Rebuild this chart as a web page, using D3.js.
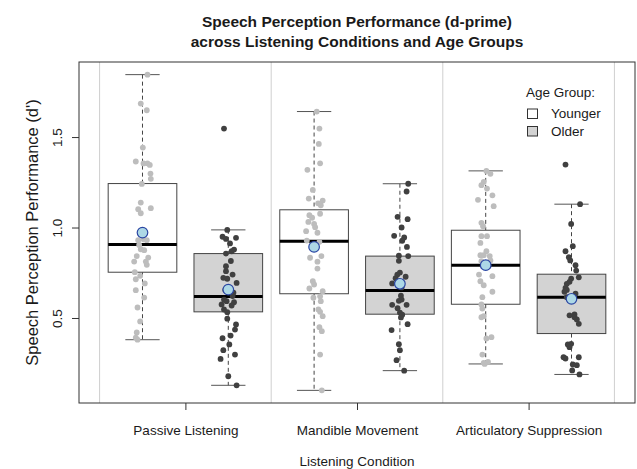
<!DOCTYPE html>
<html>
<head>
<meta charset="utf-8">
<script src="https://cdn.jsdelivr.net/npm/d3@7"></script>
<style>
  body { margin: 0; background: #fff; }
  text { font-family: "Liberation Sans", Arial, Helvetica, sans-serif; fill: #1a1a1a; }
</style>
</head>
<body>
<svg id="chart" width="637" height="469"></svg>
<script>
// Listening conditions and age groups
const conditions = ["Passive Listening", "Mandible Movement", "Articulatory Suppression"];
const ageGroups = ["Younger", "Older"];

// Box summaries, one entry per box (Younger/Older within each condition)
const whiskerLow  = [0.380, 0.128, 0.100, 0.209, 0.246, 0.188];
const quartile1   = [0.753, 0.534, 0.634, 0.521, 0.576, 0.414];
const medians     = [0.906, 0.619, 0.924, 0.652, 0.792, 0.615];
const quartile3   = [1.243, 0.856, 1.098, 0.842, 0.985, 0.742];
const whiskerHigh = [1.845, 0.987, 1.641, 1.242, 1.313, 1.129];
const means       = [0.972, 0.657, 0.893, 0.689, 0.792, 0.606];

// Individual d' scores and their horizontal jitter (in box-position units)
const passiveYoungerScores = [1.845,1.685,1.648,1.442,1.365,1.354,1.355,1.346,1.298,1.269,1.241,1.138,1.107,1.101,1.079,0.930,0.935,0.930,0.904,0.880,0.875,0.842,0.834,0.812,0.812,0.794,0.753,0.733,0.714,0.691,0.654,0.613,0.558,0.481,0.420,0.392,0.380];
const passiveYoungerJitter = [0.058,-0.02,0.05,0.004,-0.078,0.012,0.058,0.085,0.093,0.097,-0.008,-0.02,0.097,-0.05,-0.02,-0.05,0.012,0.05,-0.039,-0.02,0.02,-0.067,0.067,-0.097,0.039,0.05,-0.09,-0.027,-0.078,0.027,-0.078,0.02,-0.058,-0.027,-0.067,-0.078,-0.058];

const passiveOlderScores = [1.547,0.987,0.949,0.937,0.943,0.912,0.878,0.869,0.856,0.815,0.786,0.759,0.740,0.722,0.717,0.694,0.655,0.640,0.602,0.593,0.621,0.587,0.569,0.575,0.547,0.532,0.496,0.464,0.436,0.388,0.403,0.322,0.354,0.274,0.298,0.178,0.128];
const passiveOlderJitter = [-0.05,-0.012,-0.067,-0.027,0.09,0.02,0.067,0.039,-0.027,0.03,-0.027,-0.027,0.05,-0.058,-0.012,0.097,-0.035,0.06,-0.05,-0.02,0.05,0.067,0.039,-0.078,-0.05,-0.012,-0.012,0.09,0.078,-0.067,0.027,-0.058,0.012,-0.09,0.078,0,0.097];

const mandibleYoungerScores = [1.641,1.547,1.462,1.355,1.319,1.208,1.160,1.134,1.149,1.123,1.076,1.068,1.054,1.031,1.020,1.002,0.980,0.971,0.928,0.921,0.833,0.842,0.811,0.773,0.703,0.685,0.663,0.648,0.620,0.612,0.593,0.547,0.534,0.510,0.449,0.427,0.298,0.100];
const mandibleYoungerJitter = [0.031,0.062,0.055,0.07,-0.078,-0.015,-0.062,0.047,0.1,0.078,0.07,-0.055,-0.023,-0.067,0,0.012,-0.093,0.039,-0.085,0.062,-0.047,0.085,0.039,0.039,-0.015,0,-0.055,0.1,0.07,-0.008,0.078,0.05,0.07,0.1,0.062,0.09,0.07,0.09];

const mandibleOlderScores = [1.242,1.199,1.059,1.046,1.000,0.954,0.945,0.927,0.893,0.844,0.816,0.842,0.751,0.740,0.720,0.728,0.691,0.669,0.623,0.602,0.595,0.573,0.573,0.554,0.530,0.518,0.503,0.466,0.433,0.355,0.322,0.267,0.209];
const mandibleOlderJitter = [0.097,0.078,-0.027,0.09,0.02,-0.067,0.05,0.027,0.082,-0.012,-0.012,0.097,0,-0.03,-0.05,0.067,-0.09,0.02,0.012,0.02,-0.012,-0.09,0.078,-0.027,0,0.027,0.012,0.09,-0.097,-0.012,0,-0.039,0.05];

const articulatoryYoungerScores = [1.313,1.297,1.252,1.234,1.215,1.178,1.153,1.118,1.026,1.007,0.952,0.952,0.915,0.869,0.847,0.847,0.842,0.814,0.818,0.740,0.731,0.703,0.681,0.645,0.615,0.575,0.552,0.504,0.510,0.387,0.394,0.298,0.252,0.258,0.246];
const articulatoryYoungerJitter = [0.008,0.055,-0.023,-0.05,0.015,0.078,-0.09,0.093,-0.05,-0.031,-0.05,0.015,-0.062,0.008,-0.062,-0.023,0.047,-0.05,0.055,-0.078,0.078,-0.062,-0.023,0.078,-0.039,-0.05,-0.039,-0.05,-0.023,0.008,0.067,-0.039,-0.023,0.027,-0.012];

const articulatoryOlderScores = [1.348,1.129,1.020,0.897,0.869,0.836,0.818,0.792,0.762,0.725,0.718,0.700,0.689,0.667,0.655,0.645,0.634,0.615,0.520,0.515,0.504,0.492,0.468,0.354,0.357,0.339,0.283,0.283,0.276,0.243,0.239,0.210,0.188];
const articulatoryOlderJitter = [-0.07,0.1,-0.004,0.015,-0.07,-0.031,-0.015,0.047,0.055,0.085,-0.004,-0.023,-0.055,-0.07,-0.055,-0.082,0.047,-0.055,0.035,-0.023,0.035,0.062,0.085,-0.043,-0.004,-0.023,-0.093,0.085,-0.07,0.015,0.062,0.008,0.093];

const scoreSets  = [passiveYoungerScores, passiveOlderScores, mandibleYoungerScores, mandibleOlderScores, articulatoryYoungerScores, articulatoryOlderScores];
const jitterSets = [passiveYoungerJitter, passiveOlderJitter, mandibleYoungerJitter, mandibleOlderJitter, articulatoryYoungerJitter, articulatoryOlderJitter];

// Assemble one record per box
const boxes = scoreSets.map((scores, i) => ({
  pos: i + 1,
  group: ageGroups[i % 2],
  lo: whiskerLow[i], q1: quartile1[i], med: medians[i], q3: quartile3[i], hi: whiskerHigh[i],
  mean: means[i],
  points: scores.map((v, j) => ({ v, jit: jitterSets[i][j] }))
}));

const boxFill   = { Younger: "#ffffff", Older: "#d3d3d3" };
const pointFill = { Younger: "#bdbdbd", Older: "#404040" };

const svg = d3.select("#chart");
const plot = { left: 79, right: 635, top: 62, bottom: 403 };

// x: box positions 1..6 in the range 0.5..6.5, padded 4%
const xLo = 0.5, xHi = boxes.length + 0.5, xPad = (xHi - xLo) * 0.04;
const x = d3.scaleLinear().domain([xLo - xPad, xHi + xPad]).range([plot.left, plot.right]);

// y: data extent padded 4%
const allVals = boxes.flatMap(b => [b.lo, b.hi, ...b.points.map(p => p.v)]);
const [yMin, yMax] = d3.extent(allVals);
const yPad = (yMax - yMin) * 0.04;
const y = d3.scaleLinear().domain([yMin - yPad, yMax + yPad]).range([plot.bottom, plot.top]);

// Condition separators
const seps = d3.range(0, conditions.length + 1).map(k => 0.5 + 2 * k);
svg.append("g").selectAll("line").data(seps).join("line")
  .attr("x1", d => x(d)).attr("x2", d => x(d))
  .attr("y1", plot.top).attr("y2", plot.bottom)
  .attr("stroke", "#cfcfcf").attr("stroke-width", 1);

const bw = 0.4, sw = 0.2;
const g = svg.append("g").selectAll("g").data(boxes).join("g");

// whiskers (dashed)
g.append("line").attr("x1", d => x(d.pos)).attr("x2", d => x(d.pos))
  .attr("y1", d => y(d.hi)).attr("y2", d => y(d.q3))
  .attr("stroke", "#444").attr("stroke-dasharray", "4,3");
g.append("line").attr("x1", d => x(d.pos)).attr("x2", d => x(d.pos))
  .attr("y1", d => y(d.q1)).attr("y2", d => y(d.lo))
  .attr("stroke", "#444").attr("stroke-dasharray", "4,3");
// staples
g.append("line").attr("x1", d => x(d.pos - sw)).attr("x2", d => x(d.pos + sw))
  .attr("y1", d => y(d.hi)).attr("y2", d => y(d.hi)).attr("stroke", "#555");
g.append("line").attr("x1", d => x(d.pos - sw)).attr("x2", d => x(d.pos + sw))
  .attr("y1", d => y(d.lo)).attr("y2", d => y(d.lo)).attr("stroke", "#555");
// box
g.append("rect")
  .attr("x", d => x(d.pos - bw)).attr("width", d => x(d.pos + bw) - x(d.pos - bw))
  .attr("y", d => y(d.q3)).attr("height", d => y(d.q1) - y(d.q3))
  .attr("fill", d => boxFill[d.group]).attr("stroke", "#444").attr("stroke-width", 1);
// median
g.append("line").attr("x1", d => x(d.pos - bw)).attr("x2", d => x(d.pos + bw))
  .attr("y1", d => y(d.med)).attr("y2", d => y(d.med))
  .attr("stroke", "#000").attr("stroke-width", 3);

// jittered scores
g.each(function(d) {
  d3.select(this).selectAll("circle.pt").data(d.points).join("circle")
    .attr("class", "pt")
    .attr("cx", p => x(d.pos + p.jit)).attr("cy", p => y(p.v))
    .attr("r", 2.9).attr("fill", pointFill[d.group]);
});

// means
g.append("circle").attr("cx", d => x(d.pos)).attr("cy", d => y(d.mean))
  .attr("r", 5.3).attr("fill", "#add8e6").attr("stroke", "#2b46a3").attr("stroke-width", 1.2);

// frame
svg.append("rect").attr("x", plot.left).attr("y", plot.top)
  .attr("width", plot.right - plot.left).attr("height", plot.bottom - plot.top)
  .attr("fill", "none").attr("stroke", "#333");

// y axis
const yTicks = [0.5, 1.0, 1.5];
const yAxis = svg.append("g").attr("transform", `translate(${plot.left},0)`)
  .call(d3.axisLeft(y).tickValues(yTicks).tickFormat(d3.format(".1f")).tickSize(7).tickPadding(0));
yAxis.select(".domain").remove();
yAxis.selectAll(".tick line").attr("stroke", "#333");
yAxis.selectAll(".tick text")
  .attr("font-size", 13.5).attr("fill", "#1a1a1a")
  .attr("text-anchor", "middle").attr("dy", 0).attr("x", 0)
  .attr("transform", "translate(-17,0) rotate(-90)");

// x axis
const xAxis = svg.append("g").attr("transform", `translate(0,${plot.bottom})`)
  .call(d3.axisBottom(x).tickValues(conditions.map((c, i) => 1.5 + 2 * i))
    .tickFormat((d, i) => conditions[i]).tickSize(7).tickPadding(0));
xAxis.select(".domain").remove();
xAxis.selectAll(".tick line").attr("stroke", "#333");
xAxis.selectAll(".tick text").attr("font-size", 13.5).attr("fill", "#1a1a1a")
  .attr("dy", 0).attr("y", 32);

// axis titles
svg.append("text").attr("transform", `translate(38,${(plot.top + plot.bottom) / 2}) rotate(-90)`)
  .attr("text-anchor", "middle").attr("font-size", 16.5)
  .text("Speech Perception Performance (d')");
svg.append("text").attr("x", (plot.left + plot.right) / 2).attr("y", 466)
  .attr("text-anchor", "middle").attr("font-size", 13.5).text("Listening Condition");

// title
const cx = (plot.left + plot.right) / 2;
svg.append("text").attr("x", cx).attr("y", 27).attr("text-anchor", "middle")
  .attr("font-size", 15.5).attr("font-weight", "bold").text("Speech Perception Performance (d-prime)");
svg.append("text").attr("x", cx).attr("y", 47).attr("text-anchor", "middle")
  .attr("font-size", 15.5).attr("font-weight", "bold").text("across Listening Conditions and Age Groups");

// legend
const lg = svg.append("g").attr("transform", "translate(526,97)");
lg.append("text").attr("x", 0).attr("y", 0).attr("font-size", 13.5).text("Age Group:");
ageGroups.forEach((a, i) => {
  lg.append("rect").attr("x", 1.5).attr("y", 12 + i * 17.5).attr("width", 10).attr("height", 9.5)
    .attr("fill", boxFill[a]).attr("stroke", "#333");
  lg.append("text").attr("x", 25).attr("y", 21 + i * 17.5).attr("font-size", 13.5).text(a);
});
</script>
</body>
</html>
